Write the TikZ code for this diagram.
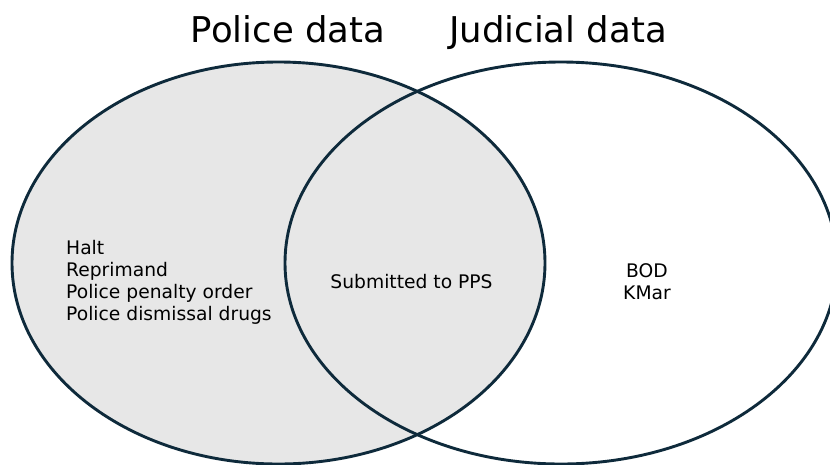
\documentclass[tikz,border=0pt]{standalone}
\usepackage{fontspec}
\setmainfont{DejaVu Sans}
\definecolor{edgecol}{HTML}{0E2A3B}
\definecolor{fillgray}{HTML}{E7E7E7}
\tikzset{
  setline/.style={draw=edgecol, line width=2.9pt},
  title/.style={anchor=base, inner sep=0pt, font=\fontsize{35.5}{40}\selectfont},
  item/.style={inner sep=0pt, font=\fontsize{18.7}{22}\selectfont},
}
\begin{document}
\begin{tikzpicture}[x=1pt,y=-1pt]
\useasboundingbox (0,0) rectangle (830,464);
\begin{scope}
\clip (0,0) rectangle (830,464);
\fill[white] (0,0) rectangle (830,464);
\fill[fill=fillgray] (278.5,263) ellipse [x radius=266.5, y radius=201];
\draw[setline] (278.5,263) ellipse [x radius=266.5, y radius=201];
\draw[setline] (561,263) ellipse [x radius=276, y radius=201];
\end{scope}
\node[title] (tpolice) at (288,42) {Police data};
\node[title] (tjud) at (558,42) {Judicial data};
\node[item, anchor=base west] (l1) at (66,254) {Halt};
\node[item, anchor=base west] (l2) at (66,276) {Reprimand};
\node[item, anchor=base west] (l3) at (66,298) {Police penalty order};
\node[item, anchor=base west] (l4) at (66,320) {Police dismissal drugs};
\node[item, anchor=base] (mid) at (411.5,288) {Submitted to PPS};
\node[item, anchor=base] (r1) at (647,277) {BOD};
\node[item, anchor=base] (r2) at (647,299) {KMar};
\end{tikzpicture}
\end{document}
